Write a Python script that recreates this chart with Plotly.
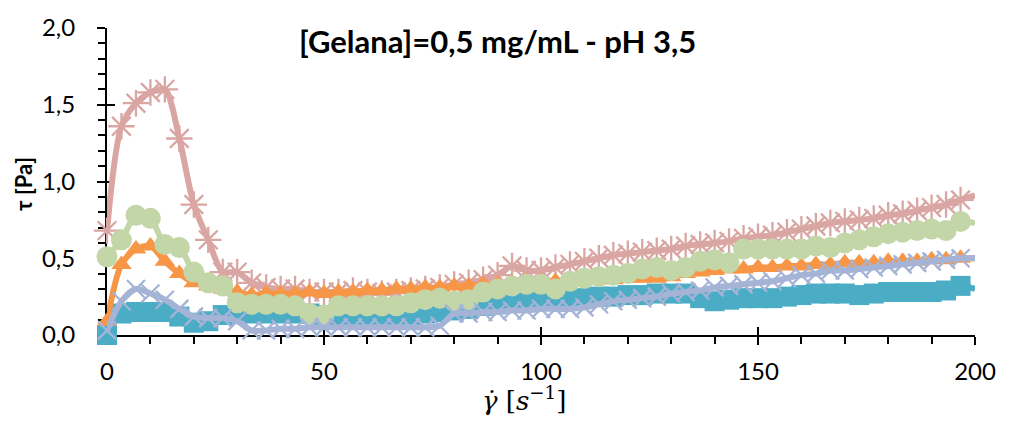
import plotly.graph_objects as go

# shear rate (1/s)
shear_rate = [0, 3.33, 6.67, 10, 13.33, 16.67, 20, 23.33, 26.67, 30,
              33.33, 36.67, 40, 43.33, 46.67, 50, 53.33, 56.67, 60, 63.33,
              66.67, 70, 73.33, 76.67, 80, 83.33, 86.67, 90, 93.33, 96.67,
              100, 103.33, 106.67, 110, 113.33, 116.67, 120, 123.33, 126.67, 130,
              133.33, 136.67, 140, 143.33, 146.67, 150, 153.33, 156.67, 160, 163.33,
              166.67, 170, 173.33, 176.67, 180, 183.33, 186.67, 190, 193.33, 196.67,
              200]

tau_pink = [0.68, 1.36, 1.51, 1.58, 1.60, 1.28, 0.85, 0.62, 0.41, 0.41,
            0.34, 0.31, 0.30, 0.30, 0.28, 0.28, 0.28, 0.29, 0.28, 0.27,
            0.28, 0.29, 0.30, 0.31, 0.33, 0.34, 0.36, 0.39, 0.45, 0.42,
            0.42, 0.44, 0.46, 0.48, 0.50, 0.52, 0.53, 0.54, 0.55, 0.56,
            0.58, 0.59, 0.60, 0.61, 0.63, 0.64, 0.65, 0.67, 0.69, 0.71,
            0.73, 0.74, 0.75, 0.76, 0.78, 0.79, 0.81, 0.83, 0.85, 0.88,
            0.91]

tau_green = [0.51, 0.62, 0.78, 0.76, 0.59, 0.57, 0.41, 0.34, 0.32, 0.21,
             0.20, 0.20, 0.20, 0.19, 0.14, 0.13, 0.19, 0.19, 0.19, 0.19,
             0.19, 0.21, 0.23, 0.24, 0.22, 0.23, 0.28, 0.30, 0.32, 0.33,
             0.33, 0.30, 0.35, 0.37, 0.38, 0.39, 0.40, 0.43, 0.44, 0.42,
             0.44, 0.48, 0.49, 0.47, 0.56, 0.56, 0.56, 0.56, 0.56, 0.58,
             0.57, 0.60, 0.62, 0.64, 0.66, 0.67, 0.68, 0.69, 0.68, 0.74,
             0.73]

tau_orange = [0.09, 0.46, 0.56, 0.58, 0.48, 0.40, 0.34, 0.32, 0.30, 0.28,
              0.26, 0.27, 0.27, 0.27, 0.28, 0.27, 0.28, 0.28, 0.29, 0.29,
              0.30, 0.30, 0.31, 0.31, 0.32, 0.32, 0.33, 0.33, 0.34, 0.35,
              0.35, 0.35, 0.36, 0.36, 0.36, 0.36, 0.37, 0.37, 0.37, 0.38,
              0.40, 0.41, 0.42, 0.43, 0.43, 0.44, 0.44, 0.45, 0.45, 0.46,
              0.46, 0.47, 0.47, 0.47, 0.48, 0.48, 0.48, 0.49, 0.49, 0.50,
              0.50]

tau_blue = [0.00, 0.14, 0.15, 0.15, 0.15, 0.12, 0.08, 0.09, 0.13, 0.14,
            0.14, 0.14, 0.14, 0.14, 0.14, 0.13, 0.12, 0.12, 0.12, 0.13,
            0.13, 0.13, 0.14, 0.15, 0.16, 0.17, 0.19, 0.20, 0.21, 0.22,
            0.23, 0.23, 0.23, 0.24, 0.25, 0.25, 0.26, 0.26, 0.27, 0.27,
            0.27, 0.24, 0.22, 0.23, 0.24, 0.24, 0.24, 0.25, 0.26, 0.27,
            0.27, 0.27, 0.26, 0.27, 0.28, 0.28, 0.28, 0.28, 0.29, 0.32,
            0.30]

tau_lavender = [0.03, 0.22, 0.30, 0.27, 0.23, 0.17, 0.12, 0.11, 0.11, 0.09,
                0.03, 0.03, 0.04, 0.04, 0.05, 0.05, 0.05, 0.05, 0.05, 0.05,
                0.05, 0.05, 0.05, 0.06, 0.14, 0.14, 0.15, 0.15, 0.16, 0.16,
                0.17, 0.17, 0.17, 0.18, 0.20, 0.22, 0.23, 0.24, 0.25, 0.27,
                0.28, 0.29, 0.31, 0.32, 0.33, 0.34, 0.35, 0.37, 0.39, 0.40,
                0.42, 0.42, 0.43, 0.44, 0.45, 0.46, 0.47, 0.48, 0.49, 0.50,
                0.50]

x_ticks = [0, 50, 100, 150, 200]
y_ticks = [0.0, 0.5, 1.0, 1.5, 2.0]
title_text = "[Gelana]=0,5 mg/mL - pH 3,5"
y_title = "τ [Pa]"
x_title = "<i>γ̇</i> [<i>s</i><sup>−1</sup>]"

PINK = "#D9A6A3"
GREEN = "#C3D6A8"
ORANGE = "#F79646"
BLUE = "#4BACC6"
LAV = "#A5B4D6"

n = len(shear_rate)


def sizes(s):
    return [s] * (n - 1) + [0]


fig = go.Figure()

series = [
    (tau_blue, BLUE, "square", 20, 0),
    (tau_pink, PINK, "asterisk-open", 22, 2.3),
    (tau_orange, ORANGE, "triangle-up", 18, 0),
    (tau_green, GREEN, "circle", 21, 0),
    (tau_lavender, LAV, "x-thin-open", 18, 2.3),
]
for vals, col, sym, sz, lw in series:
    fig.add_trace(go.Scatter(
        x=shear_rate, y=vals, mode="lines+markers",
        line=dict(color=col, width=6, shape="spline", smoothing=0.8),
        marker=dict(symbol=sym, size=sizes(sz), color=col, opacity=1,
                    line=dict(color=col, width=lw)),
        cliponaxis=False, showlegend=False, hoverinfo="skip",
    ))

# dummy trace for overlay axes (inner halves of crossing major ticks)
fig.add_trace(go.Scatter(x=[None], y=[None], xaxis="x2", yaxis="y2",
                         showlegend=False, hoverinfo="skip"))

FONT = "Lato"
tickfont = dict(family=FONT, size=24, color="black")

fig.update_layout(
    width=1016, height=423,
    margin=dict(l=107, r=41, t=18, b=88),
    paper_bgcolor="white", plot_bgcolor="white",
    separators=", ",
    xaxis=dict(range=[0, 200], tickvals=x_ticks, ticks="outside", ticklen=8,
               tickwidth=2, tickcolor="black", showline=True, linecolor="black",
               linewidth=2, showgrid=False, zeroline=False, layer="below traces",
               tickfont=tickfont, ticklabelstandoff=6,
               minor=dict(dtick=10, tick0=0, ticks="outside", ticklen=7,
                          tickwidth=1.5, tickcolor="black", showgrid=False)),
    yaxis=dict(range=[0, 2], tickvals=y_ticks, tickformat=".1f", ticks="outside",
               ticklen=8, tickwidth=2, tickcolor="black", showline=True,
               linecolor="black", linewidth=2, showgrid=False, zeroline=False,
               layer="below traces", tickfont=tickfont, ticklabelstandoff=17,
               minor=dict(dtick=0.1, tick0=0, ticks="outside", ticklen=7,
                          tickwidth=1.5, tickcolor="black", showgrid=False)),
    xaxis2=dict(range=[0, 200], overlaying="x", anchor="y2", side="bottom",
                tickvals=x_ticks, ticks="inside", ticklen=8, tickwidth=2,
                tickcolor="black", showticklabels=False, showline=False,
                showgrid=False, zeroline=False, layer="below traces"),
    yaxis2=dict(range=[0, 2], overlaying="y", anchor="x2", side="left",
                tickvals=y_ticks, ticks="inside", ticklen=8, tickwidth=2,
                tickcolor="black", showticklabels=False, showline=False,
                showgrid=False, zeroline=False, layer="below traces"),
    annotations=[
        dict(text="<b>" + title_text + "</b>", xref="paper", yref="paper",
             x=(497 - 107) / 868, y=1 + (18 - 31) / 317, xanchor="center",
             yanchor="middle", showarrow=False,
             font=dict(family=FONT, size=31, color="black")),
        dict(text="<b>" + y_title + "</b>", xref="paper", yref="paper",
             x=(24 - 107) / 868, y=(335 - 179) / 317, xanchor="center",
             yanchor="middle", textangle=-90, showarrow=False,
             font=dict(family=FONT, size=22, color="black")),
        dict(text=x_title, xref="paper", yref="paper",
             x=(524 - 107) / 868, y=-(401 - 335) / 317, xanchor="center",
             yanchor="middle", showarrow=False,
             font=dict(family="DejaVu Serif", size=26, color="black")),
    ],
)

fig.write_html("out.html")
